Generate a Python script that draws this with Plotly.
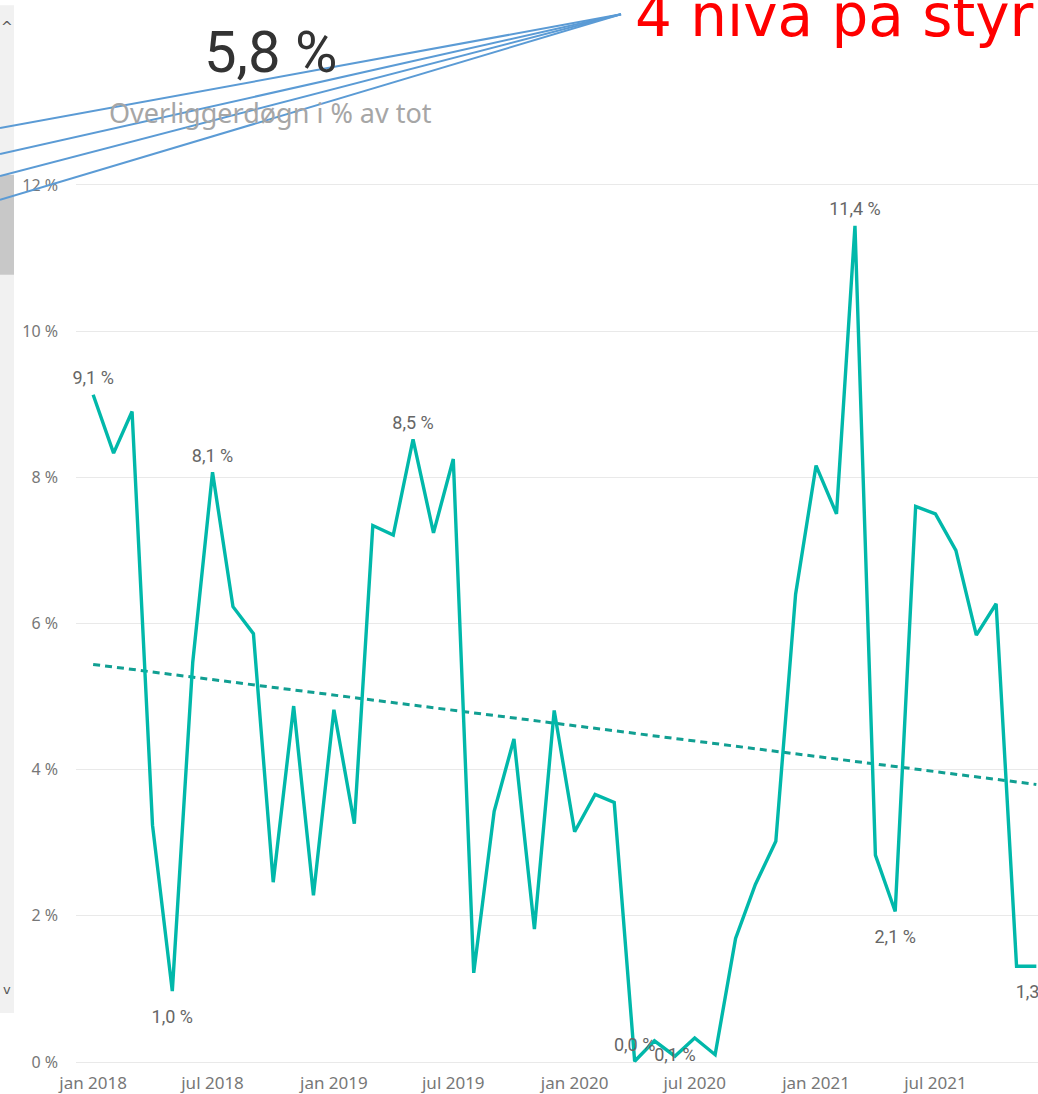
import numpy as np
import plotly.graph_objects as go

# ---- data ----
months = [f"{y}-{m:02d}-01" for y in range(2018, 2022) for m in range(1, 13)]
values = [9.13, 8.33, 8.90, 3.24, 0.97, 5.47, 8.07, 6.23, 5.86, 2.46, 4.87, 2.28,
          4.82, 3.26, 7.34, 7.21, 8.52, 7.24, 8.25, 1.22, 3.43, 4.42, 1.82, 4.81,
          3.15, 3.66, 3.55, 0.01, 0.29, 0.08, 0.33, 0.10, 1.69, 2.43, 3.02, 6.40,
          8.16, 7.50, 11.44, 2.83, 2.06, 7.60, 7.50, 7.00, 5.84, 6.27, 1.31, 1.31]
label_index = [0, 4, 6, 16, 27, 29, 38, 40, 47]
label_position = ["top center", "bottom center", "top center", "top center", "top center",
                  "middle center", "top center", "bottom center", "bottom center"]
x_tick_vals = ["2018-01-01", "2018-07-01", "2019-01-01", "2019-07-01",
               "2020-01-01", "2020-07-01", "2021-01-01", "2021-07-01"]
x_tick_text = ["jan 2018", "jul 2018", "jan 2019", "jul 2019",
               "jan 2020", "jul 2020", "jan 2021", "jul 2021"]
y_tick_vals = [0, 2, 4, 6, 8, 10, 12]
y_tick_text = ["0 %", "2 %", "4 %", "6 %", "8 %", "10 %", "12 %"]
card_value = "5,8 %"
card_title = "Overliggerdøgn i % av tot"
red_note = "4 nivå på styr"

def fmt(v):
    return f"{v:.1f}".replace(".", ",") + " %"

# trend line (least squares over month index)
idx = np.arange(len(values))
slope, intercept = np.polyfit(idx, values, 1)
trend = [intercept + slope * idx[0], intercept + slope * idx[-1]]

# ---- layout geometry (pixels) ----
W, H = 1038, 1094
PL, PR, PT, PB = 76, 1038, 150, 1070
def px(x):
    return (x - PL) / (PR - PL)
def py(y):
    return (PB - y) / (PB - PT)

TEAL = "#01B8AA"
pos_pad = {"top center": 8, "bottom center": 28, "middle center": 0}

fig = go.Figure()
fig.add_trace(go.Scatter(x=[months[0], months[-1]], y=trend, mode="lines",
                         line=dict(color="#119F92", width=3, dash="7px,5px"),
                         hoverinfo="skip", showlegend=False))
fig.add_trace(go.Scatter(x=months, y=values, mode="lines",
                         line=dict(color=TEAL, width=3.4), showlegend=False))
fig.add_trace(go.Scatter(x=[months[i] for i in label_index],
                         y=[values[i] for i in label_index],
                         text=[fmt(values[i]) for i in label_index],
                         mode="markers+text", textposition=label_position,
                         marker=dict(size=[pos_pad[p] for p in label_position], opacity=0),
                         textfont=dict(family="Roboto", size=18, color="#666666"),
                         cliponaxis=False, hoverinfo="skip", showlegend=False))

shapes = []
# scrollbar
shapes.append(dict(type="rect", xref="paper", yref="paper", x0=px(0), x1=px(14), y0=py(1015), y1=py(5),
                   fillcolor="#f1f1f1", line=dict(width=0), layer="below"))
shapes.append(dict(type="rect", xref="paper", yref="paper", x0=px(0), x1=px(14), y0=py(275), y1=py(175),
                   fillcolor="#c8c8c8", line=dict(width=0), layer="below"))
# blue callout lines
for yl in [128, 154, 176, 200]:
    shapes.append(dict(type="line", xref="paper", yref="paper", x0=px(621), y0=py(14), x1=px(0), y1=py(yl),
                       line=dict(color="#5B9BD5", width=2), layer="above"))

annotations = [
    dict(x=px(270), y=py(52), xref="paper", yref="paper", text=card_value, showarrow=False,
         font=dict(family="Roboto", size=58, color="#333333"), xanchor="center", yanchor="middle"),
    dict(x=px(270), y=py(112), xref="paper", yref="paper", text=card_title, showarrow=False,
         font=dict(family="Noto Sans", size=27, color="#a6a6a6"), xanchor="center", yanchor="middle"),
    dict(x=px(633), y=py(52), xref="paper", yref="paper", text=red_note, showarrow=False,
         font=dict(family="DejaVu Sans", size=58, color="#FF0000"), xanchor="left", yanchor="bottom"),
    dict(x=px(7), y=py(27), xref="paper", yref="paper", text="^", showarrow=False,
         font=dict(family="DejaVu Sans", size=14, color="#555555"), xanchor="center", yanchor="middle"),
    dict(x=px(7), y=py(991), xref="paper", yref="paper", text="v", showarrow=False,
         font=dict(family="DejaVu Sans", size=13, color="#555555"), xanchor="center", yanchor="middle"),
]

fig.update_layout(
    width=W, height=H, autosize=False,
    margin=dict(l=PL, r=W - PR, t=PT, b=H - PB, pad=0),
    paper_bgcolor="white", plot_bgcolor="white",
    separators=", ",
    shapes=shapes, annotations=annotations,
    xaxis=dict(type="date", range=["2017-12-06", "2021-12-03 12:00"],
               tickvals=x_tick_vals, ticktext=x_tick_text, showgrid=False, zeroline=False,
               showline=False, ticks="", ticklabelstandoff=3,
               tickfont=dict(family="Noto Sans", size=17, color="#777777")),
    yaxis=dict(range=[(1064 - PB) / 73.25, (1064 - PT) / 73.25], tickvals=y_tick_vals,
               ticktext=y_tick_text, showgrid=True, gridcolor="#e9e9e9", gridwidth=1,
               zeroline=True, zerolinecolor="#e9e9e9", zerolinewidth=1, showline=False, ticks="",
               ticklabelstandoff=17, tickfont=dict(family="Noto Sans", size=16, color="#777777")),
)

fig.write_html("out.html", config={"displayModeBar": False},
               post_script="document.body.style.margin='0';document.body.style.overflow='hidden';")
